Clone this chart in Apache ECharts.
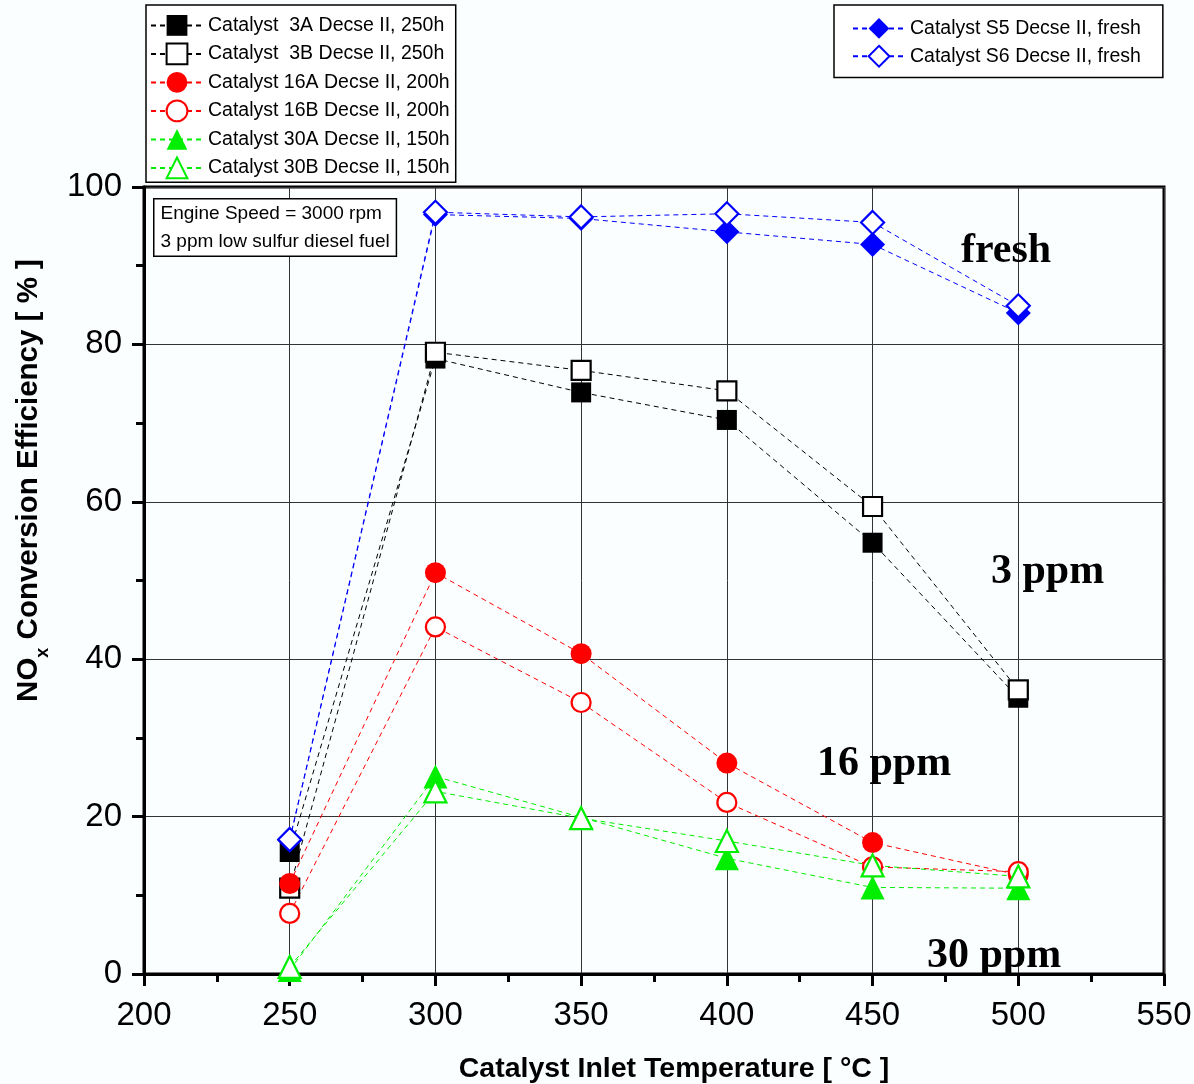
<!DOCTYPE html>
<html>
<head>
<meta charset="utf-8">
<title>NOx conversion efficiency</title>
<script src="https://cdn.jsdelivr.net/npm/echarts@6/dist/echarts.min.js"></script>
<style>
  html, body { margin: 0; padding: 0; background: #fbfeff; }
  #chartContainer { width: 1194px; height: 1084px; }
</style>
</head>
<body>
<div id="chartContainer"></div>
<script>
// inlet temperatures (x)
const temps = [250, 300, 350, 400, 450, 500];

// NOx conversion efficiency [%] per catalyst
const cat3A = [15.5, 78.2, 73.9, 70.4, 54.8, 35.1];
const cat3B = [10.9, 79.0, 76.7, 74.1, 59.4, 36.1];
const cat16A = [11.5, 51.0, 40.7, 26.8, 16.7, 12.6];
const cat16B = [7.7, 44.1, 34.5, 21.8, 13.6, 13.0];
const cat30A = [0.5, 25.1, 19.9, 14.7, 11.0, 10.9];
const cat30B = [0.9, 23.2, 19.8, 16.9, 13.8, 12.4];
const catS5 = [17.0, 96.5, 96.0, 94.3, 92.7, 84.0];
const catS6 = [17.1, 96.8, 96.2, 96.6, 95.5, 84.9];

const seriesNames = [
  'Catalyst  3A Decse II, 250h',
  'Catalyst  3B Decse II, 250h',
  'Catalyst 16A Decse II, 200h',
  'Catalyst 16B Decse II, 200h',
  'Catalyst 30A Decse II, 150h',
  'Catalyst 30B Decse II, 150h',
  'Catalyst S5 Decse II, fresh',
  'Catalyst S6 Decse II, fresh'
];

const xTicks = [200, 250, 300, 350, 400, 450, 500, 550];
const yTicks = [0, 20, 40, 60, 80, 100];

const FONT = '"Liberation Sans", Arial, sans-serif';
const SERIF = 'bold 42px "Liberation Serif", serif';

function pairs(ys) {
  return temps.map((t, i) => [t, ys[i]]);
}

// filled / open marker style helpers
function mkSeries(name, ys, color, symbol, size, open) {
  return {
    name: name,
    type: 'line',
    data: pairs(ys),
    symbol: symbol,
    symbolSize: size,
    showAllSymbol: true,
    lineStyle: { color: color, width: 1, type: [5, 4] },
    itemStyle: open
      ? { color: '#ffffff', borderColor: color, borderWidth: 2.2 }
      : { color: color, borderColor: color, borderWidth: 0 },
    emphasis: { disabled: true },
    animation: false
  };
}

const chart = echarts.init(document.getElementById('chartContainer'));

chart.setOption({
  backgroundColor: '#fbfeff',
  animation: false,
  textStyle: { fontFamily: FONT },
  grid: {
    left: 144, right: 30, top: 187, bottom: 110,
    outerBoundsMode: 'none',
    show: true, borderColor: '#000', borderWidth: 3, backgroundColor: 'transparent'
  },
  legend: [
    {
      data: seriesNames.slice(0, 6),
      orient: 'vertical',
      left: 146, top: 5,
      itemWidth: 52, itemHeight: 26, itemGap: 6.7,
      padding: [10, 6, 3, 4],
      borderColor: '#000', borderWidth: 1.5,
      backgroundColor: '#fff',
      textStyle: { fontFamily: FONT, fontSize: 19.5, color: '#000' },
      selectedMode: false
    },
    {
      data: seriesNames.slice(6),
      orient: 'vertical',
      left: 834, top: 5,
      itemWidth: 52, itemHeight: 26, itemGap: 6,
      padding: [13, 22, 10, 18],
      borderColor: '#000', borderWidth: 1.5,
      backgroundColor: '#fff',
      textStyle: { fontFamily: FONT, fontSize: 19.5, color: '#000' },
      selectedMode: false
    }
  ],
  xAxis: {
    type: 'value',
    min: xTicks[0], max: xTicks[xTicks.length - 1], interval: 50,
    name: 'Catalyst Inlet Temperature [ °C ]',
    nameLocation: 'middle', nameGap: 81,
    nameTextStyle: { fontFamily: FONT, fontSize: 28.5, fontWeight: 'bold', color: '#000', padding: [0, 0, 0, 40] },
    axisLine: { onZero: false, lineStyle: { color: '#000', width: 3 } },
    axisTick: { inside: false, length: 12, lineStyle: { color: '#000', width: 3 } },
    minorTick: { show: true, splitNumber: 2, length: 8, lineStyle: { color: '#000', width: 3 } },
    splitLine: { show: true, lineStyle: { color: '#333', width: 1 } },
    axisLabel: { fontFamily: FONT, fontSize: 33, color: '#000', margin: 25 }
  },
  yAxis: {
    type: 'value',
    min: yTicks[0], max: yTicks[yTicks.length - 1], interval: 20,
    name: '{a|NO}{s|x}{a| Conversion Efficiency [ % ]}',
    nameLocation: 'middle', nameGap: 98, nameRotate: 90,
    nameTextStyle: {
      padding: [0, 0, 0, 200],
      rich: {
        a: { fontFamily: FONT, fontSize: 29.5, fontWeight: 'bold', color: '#000', lineHeight: 32, verticalAlign: 'top' },
        s: { fontFamily: FONT, fontSize: 18, fontWeight: 'bold', color: '#000', lineHeight: 18, padding: [20, 0, 0, 0], verticalAlign: 'top' }
      }
    },
    axisLine: { lineStyle: { color: '#000', width: 3 } },
    axisTick: { inside: false, length: 12, lineStyle: { color: '#000', width: 3 } },
    minorTick: { show: true, splitNumber: 2, length: 8, lineStyle: { color: '#000', width: 3 } },
    splitLine: { show: true, lineStyle: { color: '#333', width: 1 } },
    axisLabel: { fontFamily: FONT, fontSize: 33, color: '#000', margin: 22 }
  },
  graphic: [
    {
      type: 'text', left: 153, top: 198, z: 10,
      style: {
        text: 'Engine Speed = 3000 rpm\n3 ppm low sulfur diesel fuel',
        font: '19px ' + FONT, fill: '#000', lineHeight: 28,
        backgroundColor: '#fff', borderColor: '#000', borderWidth: 1.5,
        padding: [0, 6, 0, 6]
      }
    },
    { type: 'text', left: 961, top: 230, z: 10, style: { text: 'fresh', font: SERIF, fill: '#000' } },
    { type: 'text', left: 991, top: 551, z: 10, style: { text: '3 ppm', font: SERIF, fill: '#000' } },
    { type: 'text', left: 817, top: 743, z: 10, style: { text: '16 ppm', font: SERIF, fill: '#000' } },
    { type: 'text', left: 927, top: 935, z: 10, style: { text: '30 ppm', font: SERIF, fill: '#000' } }
  ],
  series: [
    mkSeries(seriesNames[0], cat3A, '#000000', 'rect', 20, false),
    mkSeries(seriesNames[1], cat3B, '#000000', 'rect', 19, true),
    mkSeries(seriesNames[2], cat16A, '#ff0000', 'circle', 21, false),
    mkSeries(seriesNames[3], cat16B, '#ff0000', 'circle', 19, true),
    mkSeries(seriesNames[4], cat30A, '#00ee00', 'triangle', 24, false),
    mkSeries(seriesNames[5], cat30B, '#00ee00', 'triangle', 22, true),
    mkSeries(seriesNames[6], catS5, '#0000ff', 'diamond', 25, false),
    mkSeries(seriesNames[7], catS6, '#0000ff', 'diamond', 23, true)
  ]
});
</script>
</body>
</html>
